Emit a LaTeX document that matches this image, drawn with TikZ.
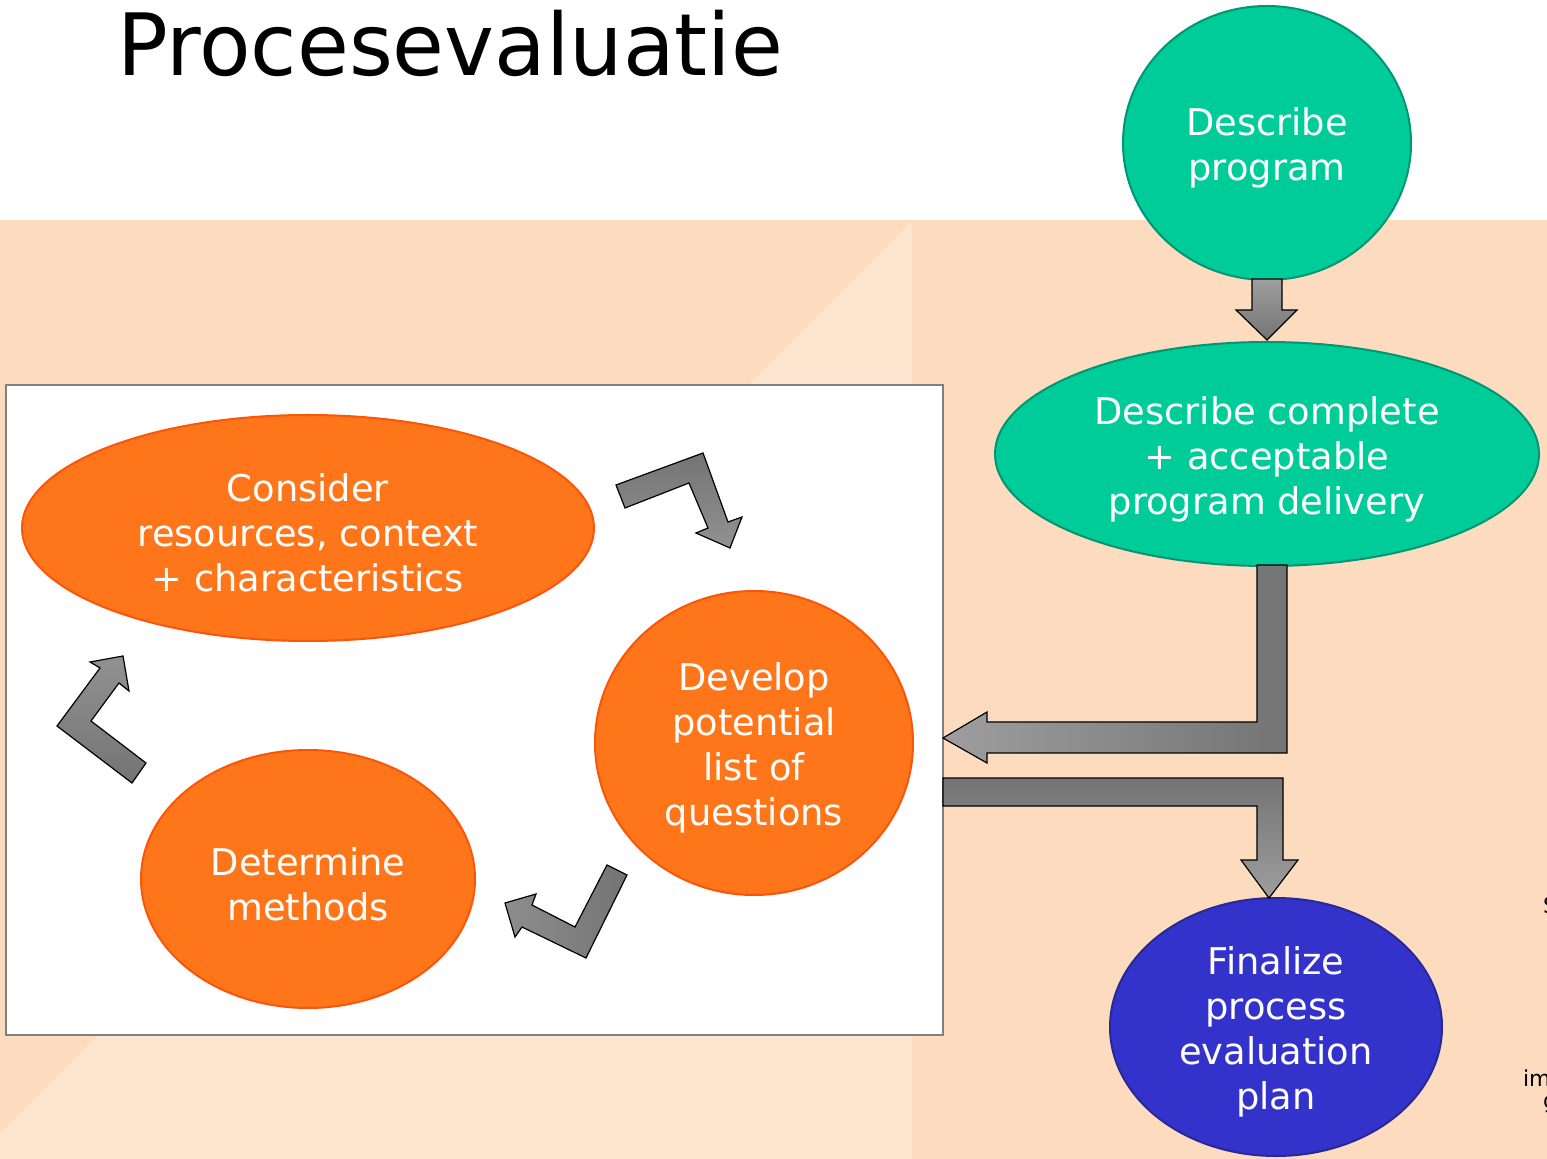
\documentclass[tikz,border=0pt]{standalone}
\usepackage{fontspec}
\setmainfont{DejaVu Sans}
\newfontfamily\titlefont[FakeStretch=0.98]{DejaVu Sans}
\usetikzlibrary{shapes.geometric,positioning}
\definecolor{peach}{RGB}{253,219,190}
\definecolor{peachlight}{RGB}{253,229,207}
\definecolor{stepgreen}{RGB}{0,204,153}
\definecolor{stepgreenline}{RGB}{0,150,115}
\definecolor{steporange}{RGB}{255,117,25}
\definecolor{steporangeline}{RGB}{250,85,10}
\definecolor{stepblue}{RGB}{51,51,204}
\definecolor{stepblueline}{RGB}{40,40,150}
\definecolor{arrlight}{RGB}{158,158,158}
\definecolor{arrdark}{RGB}{116,116,116}
\newcommand{\firstline}{\rule{0pt}{19pt}}

\begin{document}
\begin{tikzpicture}[x=0.5pt,y=-0.5pt,
	plan/.style={ellipse,draw,line width=1pt,inner sep=0pt,text=white,align=center,font=\fontsize{18.4pt}{22.5pt}\selectfont},
	green plan/.style={plan,fill=stepgreen,draw=stepgreenline},
	orange plan/.style={plan,fill=steporange,draw=steporangeline},
	blue plan/.style={plan,fill=stepblue,draw=stepblueline},
	blockarrow/.style={draw=black,line width=0.6pt},
	cut text/.style={anchor=west,font=\fontsize{11pt}{13pt}\selectfont}]
		\useasboundingbox (0,0) rectangle (1547,1159);
		\fill[white] (0,0) rectangle (1547,220);
		\fill[peach] (0,220) rectangle (1547,1159);
		\fill[peachlight] (912,221) -- (912,1159) -- (0,1159) -- (0,1133) -- cycle;

		\node[anchor=base west,font=\titlefont\fontsize{43pt}{50pt}\selectfont] (title) at (110,76) {Procesevaluatie};

		\draw[gray,line width=1.2pt,fill=white] (6,385) rectangle (943,1035);

		\node[green plan,minimum width=144pt,minimum height=137pt] (pDesc) at (1267,143) {\firstline Describe\\program};
		\node[green plan,minimum width=272pt,minimum height=112pt] (pComp) [below=30pt of pDesc] {\firstline Describe complete\\+ acceptable\\program delivery};
		\node[orange plan,minimum width=286pt,minimum height=113pt] (pCons) at (308,528) {\firstline Consider\\resources, context\\+ characteristics};
		\node[orange plan,minimum width=159pt,minimum height=152pt] (pDev) at (754,743) {\firstline Develop\\potential\\list of\\questions};
		\node[orange plan,minimum width=167pt,minimum height=129pt] (pMeth) at (308,879) {\firstline Determine\\methods};
		\node[blue plan,minimum width=166pt,minimum height=129pt] (pFin) at (1276,1027) {\firstline Finalize\\process\\evaluation\\plan};

		\shade[blockarrow,top color=arrlight,bottom color=arrdark]
		(1252,279) -- (1282,279) -- (1282,310) -- (1297,310) -- (1267,340) -- (1236,310) -- (1252,310) -- cycle;
		\shade[blockarrow,left color=arrlight,right color=arrdark]
		(1257,565) -- (1287,565) -- (1287,753) -- (987,753) -- (987,763) -- (943,738) -- (987,712) -- (987,722) -- (1257,722) -- cycle;
		\shade[blockarrow,top color=arrdark,bottom color=arrlight]
		(943,778) -- (1283,778) -- (1283,860) -- (1298,860) -- (1269,898) -- (1241,860) -- (1257,860) -- (1257,806) -- (943,806) -- cycle;

		\shade[blockarrow,top color=arrdark,bottom color=arrlight!70!arrdark]
		(616,485) -- (703,453) -- (728,522) -- (742,517) -- (730,548) -- (696,533) -- (708,528) -- (689,483) -- (625,508) -- cycle;
		\shade[blockarrow,top color=arrlight!70!arrdark,bottom color=arrdark]
		(146,763) -- (91,721) -- (119,683) -- (129,691) -- (123,656) -- (90,662) -- (100,668) -- (57,726) -- (132,783) -- cycle;
		\shade[blockarrow,left color=arrlight!60!arrdark,right color=arrdark]
		(607,865) -- (575,927) -- (532,905) -- (536,894) -- (505,903) -- (515,937) -- (522,927) -- (586,958) -- (627,875) -- cycle;

		\node[cut text] (cutS) at (1536,905) {S};
		\node[cut text] (cutIm) at (1516,1078) {im};
		\node[cut text] (cutG) at (1536,1105) {g};
	\end{tikzpicture}
\end{document}
